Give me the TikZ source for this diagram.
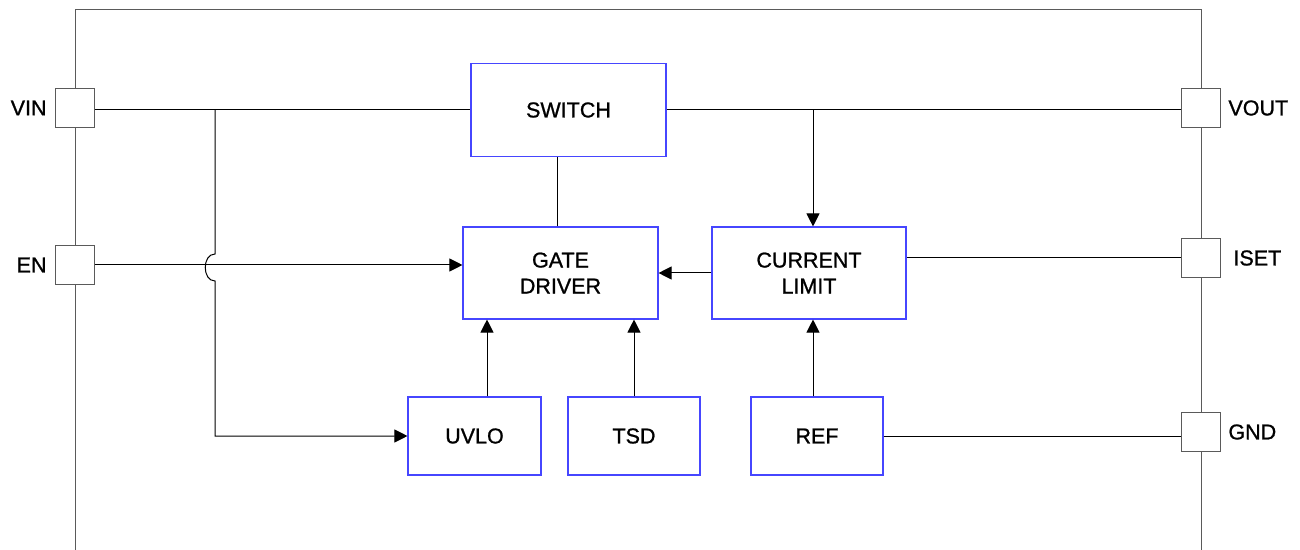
\documentclass[tikz,border=0pt]{standalone}
\usepackage{fontspec}
\setmainfont{Liberation Sans}[FakeBold=1.0]
\usepackage{tikz}
\usetikzlibrary{arrows.meta,positioning}

\definecolor{blockblue}{RGB}{70,70,255}
\definecolor{pingray}{RGB}{90,90,90}

\tikzset{
    block/.style={draw=blockblue, fill=white, line width=0.55pt, align=center,
        font=\fontsize{10.75}{13}\selectfont},
    pinbox/.style={draw=pingray, fill=white, line width=0.55pt,
        minimum width=19.5pt, minimum height=19.5pt, inner sep=0pt},
    pinname/.style={inner sep=0pt, font=\fontsize{10.75}{13}\selectfont},
    wire/.style={line width=0.5pt},
    sig/.style={wire, -{Triangle[length=6.5pt,width=6.5pt]}}
}

\begin{document}
\begin{tikzpicture}[x=0.5pt, y=-0.5pt]
    \useasboundingbox (0,0) rectangle (1300,550);

    % draw outline of the chip
    \draw[wire, pingray] (75,550) -- (75,10) -- (1201,10) -- (1201,550);

    % draw pins
    \node[pinbox] (vin)  at (75,108)   {};
    \node[pinbox] (en)   at (75,265)   {};
    \node[pinbox] (vout) at (1201,108) {};
    \node[pinbox] (iset) at (1201,258) {};
    \node[pinbox] (gnd)  at (1201,432) {};

    \node[pinname, left=4pt of vin]   (vinname)  {VIN};
    \node[pinname, left=4pt of en]    (enname)   {EN};
    \node[pinname, right=3.5pt of vout] (voutname) {VOUT};
    \node[pinname, right=6pt of iset] (isetname) {ISET};
    \node[pinname, right=3.5pt of gnd]  (gndname)  {GND};

    % draw blocks
    \node[block, minimum width=97.5pt, minimum height=46.5pt] (switch) at (568.5,110) {SWITCH};
    \node[block, minimum width=97.5pt, minimum height=46pt] (gate) at (560.5,273) {GATE\\DRIVER};
    \node[block, minimum width=97pt, minimum height=46pt] (limit) at (809,273) {CURRENT\\LIMIT};
    \node[block, minimum width=66.5pt, minimum height=39pt] (uvlo) at (474.5,436) {UVLO};
    \node[block, minimum width=66pt, minimum height=39pt] (tsd) at (634,436) {TSD};
    \node[block, minimum width=66pt, minimum height=39pt] (ref) at (817,436) {REF};

    % tap points
    \coordinate (vintap) at (215,110);
    \coordinate (outtap) at (813,110);

    % draw power path
    \draw[wire] (vin.east |- switch.west) -- (switch.west);
    \draw[wire] (switch.east) -- (vout.west |- switch.east);
    \draw[wire] (557,0 |- gate.north) -- (557,0 |- switch.south);

    % draw VIN to UVLO with hop over EN
    \draw[sig] (vintap) -- (215,254) .. controls (202,254) and (202,281) .. (215,281)
        -- (215,436) -- (uvlo.west);

    % draw signals
    \draw[sig] (en.east) -- (en.east -| gate.west);
    \draw[sig] (outtap) -- (outtap |- limit.north);
    \draw[sig] (limit.west) -- (gate.east);
    \draw[wire] (iset.west) -- (iset.west -| limit.east);
    \draw[sig] (487,0 |- uvlo.north) -- (487,0 |- gate.south);
    \draw[sig] (tsd.north) -- (tsd.north |- gate.south);
    \draw[sig] (outtap |- ref.north) -- (outtap |- limit.south);
    \draw[wire] (ref.east) -- (gnd.west |- ref.east);

\end{tikzpicture}
\end{document}
